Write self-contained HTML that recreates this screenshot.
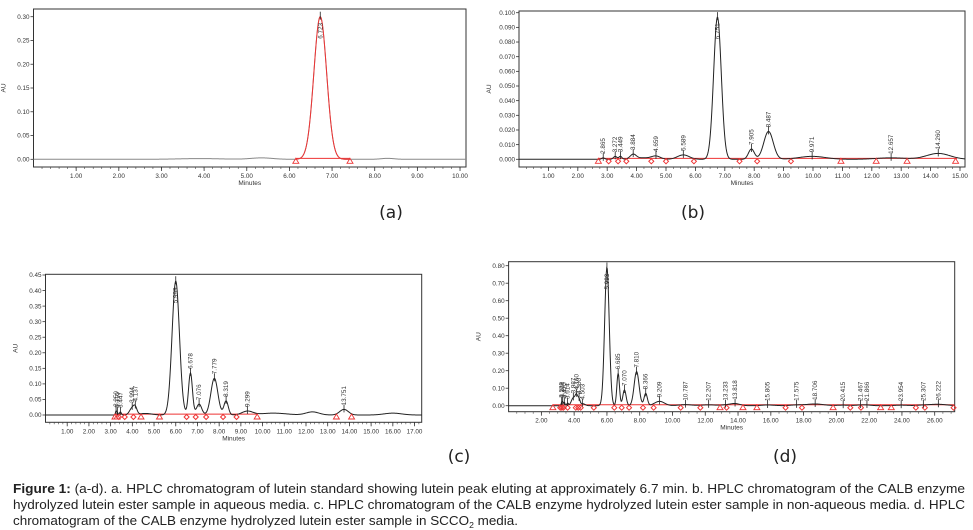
<!DOCTYPE html>
<html><head><meta charset="utf-8">
<style>
html,body{margin:0;padding:0;background:#fff;}
svg{display:block;font-family:"Liberation Sans",Arial,sans-serif;}
</style></head>
<body>
<svg id="fig" width="973" height="530" viewBox="0 0 973 530" xmlns="http://www.w3.org/2000/svg">
  <g id="panels"></g>
  <text x="391" y="218" font-family="DejaVu Sans,sans-serif" font-size="17" text-anchor="middle" fill="#222">(a)</text>
  <text x="693" y="218" font-family="DejaVu Sans,sans-serif" font-size="17" text-anchor="middle" fill="#222">(b)</text>
  <text x="459" y="462" font-family="DejaVu Sans,sans-serif" font-size="17" text-anchor="middle" fill="#222">(c)</text>
  <text x="785" y="462" font-family="DejaVu Sans,sans-serif" font-size="17" text-anchor="middle" fill="#222">(d)</text>
  <g font-size="12.5" fill="#222">
    <text x="13" y="493" textLength="952" lengthAdjust="spacingAndGlyphs"><tspan font-weight="bold">Figure 1:</tspan> (a-d). a. HPLC chromatogram of lutein standard showing lutein peak eluting at approximately 6.7 min. b. HPLC chromatogram of the CALB enzyme</text>
    <text x="13" y="509" textLength="952" lengthAdjust="spacingAndGlyphs">hydrolyzed lutein ester sample in aqueous media. c. HPLC chromatogram of the CALB enzyme hydrolyzed lutein ester sample in non-aqueous media. d. HPLC</text>
    <text x="13" y="525" textLength="505" lengthAdjust="spacingAndGlyphs">chromatogram of the CALB enzyme hydrolyzed lutein ester sample in SCCO<tspan font-size="8" dy="3">2</tspan><tspan dy="-3"> media.</tspan></text>
  </g>
</svg>
<script>
// ---- Panel A data ----
const peaksA_t = [5.35, 6.723, 3.9, 8.3];
const peaksA_h = [0.003, 0.300, 0.0015, 0.002];
const peaksA_w = [0.25, 0.15, 0.5, 0.15];
const labelsA = ["", "6.723", "", ""];
const markersA_t = [6.15, 7.42];
const markersA_k = ["tri", "tri"];
const yTicksA = [0, 0.05, 0.10, 0.15, 0.20, 0.25, 0.30];
const xTicksA = [1,2,3,4,5,6,7,8,9,10];

// ---- Panel B data ----
const peaksB_t = [2.865, 3.272, 3.449, 3.884, 4.659, 5.589, 6.75, 7.905, 8.487, 9.971, 12.657, 14.26, 4.2];
const peaksB_h = [0.001, 0.002, 0.002, 0.003, 0.002, 0.003, 0.097, 0.007, 0.019, 0.002, 0.001, 0.004, 0.001];
const peaksB_w = [0.05, 0.06, 0.05, 0.1, 0.15, 0.2, 0.13, 0.1, 0.16, 0.45, 0.5, 0.4, 0.3];
const labelsB = ["2.865","3.272","3.449","3.884","4.659","5.589","6.751","7.905","8.487","9.971","12.657","14.260",""];
const markersB_t = [2.7, 3.05, 3.37, 3.65, 4.5, 5.0, 5.95, 7.5, 8.1, 9.25, 10.95, 12.15, 13.2, 14.85];
const markersB_k = ["tri","dia","dia","dia","dia","dia","dia","dia","dia","dia","tri","tri","tri","tri"];
const yTicksB = [0,0.01,0.02,0.03,0.04,0.05,0.06,0.07,0.08,0.09,0.10];
const xTicksB = [1,2,3,4,5,6,7,8,9,10,11,12,13,14,15];

// ---- Panel C data ----
const peaksC_t = [3.25, 3.31, 3.45, 3.994, 4.137, 6.0, 6.678, 7.076, 7.779, 8.319, 9.299, 13.751, 12.3, 4.6, 10.5, 16.0];
const peaksC_h = [0.012, 0.008, 0.01, 0.022, 0.018, 0.43, 0.135, 0.035, 0.118, 0.045, 0.012, 0.018, 0.01, 0.005, 0.006, 0.006];
const peaksC_w = [0.03, 0.03, 0.04, 0.12, 0.08, 0.17, 0.09, 0.12, 0.16, 0.1, 0.25, 0.2, 0.3, 0.3, 0.6, 0.4];
const labelsC = ["3.250","3.310","3.447","3.994","4.137","5.999","6.678","7.076","7.779","8.319","9.299","13.751","","","",""];
const markersC_t = [3.2, 3.3, 3.38, 3.65, 4.05, 4.4, 5.25, 6.5, 6.92, 7.4, 8.18, 8.8, 9.75, 13.4, 14.1];
const markersC_k = ["tri","tri","dia","dia","dia","tri","tri","dia","dia","dia","dia","dia","tri","tri","tri"];
const yTicksC = [0,0.05,0.10,0.15,0.20,0.25,0.30,0.35,0.40,0.45];
const xTicksC = [1,2,3,4,5,6,7,8,9,10,11,12,13,14,15,16,17];

// ---- Panel D data ----
const peaksD_t = [3.24, 3.3, 3.4, 3.6, 3.95, 4.15, 4.3, 4.5, 6.0, 6.685, 7.07, 7.81, 8.366, 9.209, 10.787, 12.207, 13.233, 13.818, 15.805, 17.575, 18.706, 20.415, 21.467, 21.866, 23.954, 25.307, 26.222];
const peaksD_h = [0.02, 0.02, 0.02, 0.015, 0.045, 0.055, 0.03, 0.012, 0.79, 0.185, 0.09, 0.195, 0.07, 0.025, 0.006, 0.005, 0.004, 0.012, 0.004, 0.004, 0.01, 0.003, 0.003, 0.003, 0.003, 0.003, 0.008];
const peaksD_w = [0.03, 0.03, 0.04, 0.05, 0.12, 0.08, 0.06, 0.15, 0.14, 0.08, 0.1, 0.15, 0.1, 0.3, 0.4, 0.4, 0.3, 0.3, 0.4, 0.4, 0.5, 0.4, 0.3, 0.3, 0.4, 0.4, 0.5];
const labelsD = ["3.239","3.304","3.410","3.614","3.987","4.160","4.300","4.503","5.993","6.685","7.070","7.810","8.366","9.209","10.787","12.207","13.233","13.818","15.805","17.575","18.706","20.415","21.467","21.866","23.954","25.307","26.222"];
const markersD_t = [2.7, 3.15, 3.25, 3.35, 3.6, 4.1, 4.25, 4.4, 5.2, 6.45, 6.9, 7.35, 8.2, 8.85, 10.5, 11.7, 12.9, 13.3, 14.3, 15.15, 16.9, 17.9, 19.8, 20.85, 21.5, 22.7, 23.35, 24.85, 25.4, 27.15];
const markersD_k = ["tri","dia","dia","dia","dia","dia","dia","dia","dia","dia","dia","dia","dia","dia","dia","dia","tri","dia","tri","tri","dia","dia","tri","dia","dia","tri","tri","dia","dia","dia"];
const yTicksD = [0,0.10,0.20,0.30,0.40,0.50,0.60,0.70,0.80];
const xTicksD = [2,4,6,8,10,12,14,16,18,20,22,24,26];

const NS = "http://www.w3.org/2000/svg";
const root = document.getElementById('panels');
function mk(tag, attrs, parent){
  const e = document.createElementNS(NS, tag);
  for (const k in attrs) e.setAttribute(k, attrs[k]);
  parent.appendChild(e);
  return e;
}

function drawPanel(cfg){
  const g = mk('g', {}, root);
  
  
  const xs = t => cfg.x0 + (t / cfg.xmax) * (cfg.x1 - cfg.x0);
  const ys = v => cfg.yz - (v / cfg.ytop) * (cfg.yz - cfg.yt);
  const signal = t => {
    let s = 0;
    for (let i = 0; i < cfg.pt.length; i++) {
      const d = (t - cfg.pt[i]) / cfg.pw[i];
      s += cfg.ph[i] * Math.exp(-0.5 * d * d);
    }
    return s;
  };
  // frame
  const fr = mk('rect', {x: cfg.x0, y: cfg.top, width: cfg.x1 - cfg.x0, height: cfg.bot - cfg.top, fill: 'none', stroke: '#333', 'stroke-width': 1}, g);
  
  
  // y ticks
  cfg.yticks.forEach(v => {
    const y = ys(v);
    mk('line', {x1: cfg.x0 - 3, x2: cfg.x0, y1: y, y2: y, stroke: '#333', 'stroke-width': 0.8}, g);
    const tx = mk('text', {x: cfg.x0 - 4, y: y + 2.2, 'font-size': 6.3, 'text-anchor': 'end', fill: '#333'}, g);
    tx.textContent = v.toFixed(cfg.ydec);
    
    
  });
  // x minor ticks
  for (let t = cfg.minor; t < cfg.xmax; t += cfg.minor) {
    mk('line', {x1: xs(t), x2: xs(t), y1: cfg.bot, y2: cfg.bot + 2, stroke: '#444', 'stroke-width': 0.6}, g);
  }
  cfg.xticks.forEach(t => {
    mk('line', {x1: xs(t), x2: xs(t), y1: cfg.bot, y2: cfg.bot + 4, stroke: '#333', 'stroke-width': 0.8}, g);
    const tx = mk('text', {x: xs(t), y: cfg.bot + 11, 'font-size': 6.3, 'text-anchor': 'middle', fill: '#333'}, g);
    tx.textContent = t.toFixed(2);
    
    
  });
  const xl = mk('text', {x: (cfg.x0 + cfg.x1) / 2, y: cfg.bot + 18, 'font-size': 6.5, 'text-anchor': 'middle', fill: '#333'}, g);
  xl.textContent = 'Minutes';
  
  
  const yl = mk('text', {x: 0, y: 0, 'font-size': 6.5, 'text-anchor': 'middle', fill: '#333', transform: `translate(${cfg.x0 - 28},${(cfg.top + cfg.bot) / 2}) rotate(-90)`}, g);
  yl.textContent = 'AU';
  
  
  // baseline (red)
  const bl = mk('line', {x1: xs(cfg.bl0), x2: xs(cfg.bl1), y1: ys(0.002 * cfg.ytop / 0.3), y2: ys(0.002 * cfg.ytop / 0.3), stroke: '#e33', 'stroke-width': 1}, g);
  
  
  // trace
  let d = '';
  const step = cfg.xmax / 900;
  for (let t = 0; t <= cfg.xmax + 1e-9; t += step) {
    d += (d ? 'L' : 'M') + xs(t).toFixed(2) + ',' + ys(signal(t)).toFixed(2);
  }
  const tr = mk('path', {d: d, fill: 'none', stroke: cfg.trace, 'stroke-width': 1}, g);
  
  
  if (cfg.redSeg) {
    let d2 = '';
    for (let t = cfg.redSeg[0]; t <= cfg.redSeg[1]; t += step) {
      d2 += (d2 ? 'L' : 'M') + xs(t).toFixed(2) + ',' + ys(signal(t)).toFixed(2);
    }
    const rs = mk('path', {d: d2, fill: 'none', stroke: '#e33', 'stroke-width': 1}, g);
    
    
  }
  // markers
  cfg.mt.forEach((t, i) => {
    const x = xs(t), y = cfg.yz + 2;
    let m;
    if (cfg.mk[i] === 'tri') {
      m = mk('path', {d: `M${x},${y - 3}L${x + 3},${y + 2}L${x - 3},${y + 2}Z`, fill: 'none', stroke: '#e33', 'stroke-width': 0.9}, g);
    } else {
      m = mk('path', {d: `M${x},${y - 2.5}L${x + 2.5},${y}L${x},${y + 2.5}L${x - 2.5},${y}Z`, fill: 'none', stroke: '#e33', 'stroke-width': 1}, g);
    }
    
    
  });
  // peak labels
  cfg.pt.forEach((t, i) => {
    if (!cfg.lab[i]) return;
    const x = xs(t), yp = ys(signal(t));
    mk('line', {x1: x, x2: x, y1: yp - 5, y2: yp + 3, stroke: '#222', 'stroke-width': 0.8}, g);
    let ystart = yp - 4;
    if (cfg.ph[i] > cfg.ytop * 0.8) ystart = yp + 22;
    const tx = mk('text', {x: 0, y: 0, 'font-size': 6.3, fill: '#333', transform: `translate(${x + 2},${ystart}) rotate(-90)`}, g);
    tx.textContent = cfg.lab[i];
    
    
  });
}

drawPanel({name:'chromatogram-a', x0:33.5, x1:466, top:9, bot:167, yz:159.3, yt:16.7, ytop:0.30, ydec:2, xmax:10.14,
  yticks:yTicksA, xticks:xTicksA, minor:0.2, pt:peaksA_t, ph:peaksA_h, pw:peaksA_w, lab:labelsA, mt:markersA_t, mk:markersA_k,
  trace:'#888', redSeg:[6.15,7.42], bl0:6.15, bl1:7.42});
drawPanel({name:'chromatogram-b', x0:519, x1:965, top:11, bot:167, yz:159.3, yt:12.7, ytop:0.10, ydec:3, xmax:15.17,
  yticks:yTicksB, xticks:xTicksB, minor:0.25, pt:peaksB_t, ph:peaksB_h, pw:peaksB_w, lab:labelsB, mt:markersB_t, mk:markersB_k,
  trace:'#222', bl0:2.7, bl1:14.9});
drawPanel({name:'chromatogram-c', x0:45.5, x1:421.7, top:274.3, bot:422.3, yz:415, yt:275, ytop:0.45, ydec:2, xmax:17.33,
  yticks:yTicksC, xticks:xTicksC, minor:0.2, pt:peaksC_t, ph:peaksC_h, pw:peaksC_w, lab:labelsC, mt:markersC_t, mk:markersC_k,
  trace:'#222', bl0:3.2, bl1:9.75});
drawPanel({name:'chromatogram-d', x0:508.6, x1:954.7, top:261.7, bot:411.7, yz:405.7, yt:265.7, ytop:0.80, ydec:2, xmax:27.22,
  yticks:yTicksD, xticks:xTicksD, minor:0.5, pt:peaksD_t, ph:peaksD_h, pw:peaksD_w, lab:labelsD, mt:markersD_t, mk:markersD_k,
  trace:'#222', bl0:2.7, bl1:27.2});
</script>
</body></html>
